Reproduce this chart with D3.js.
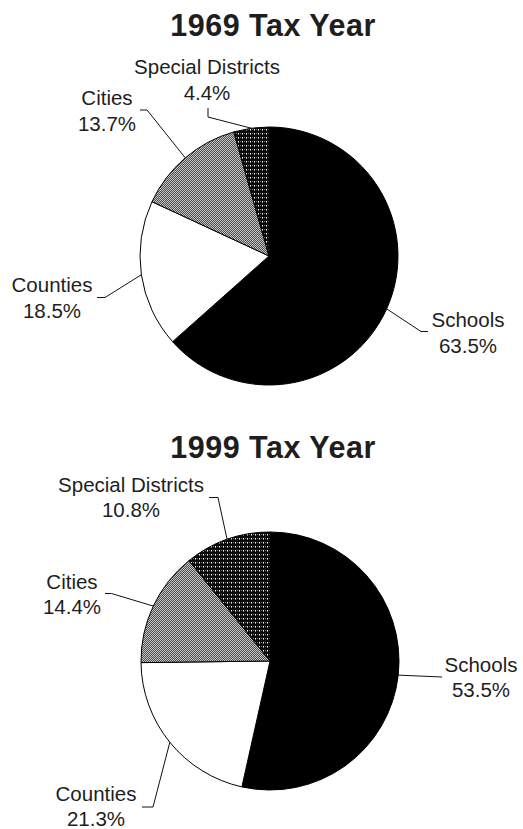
<!DOCTYPE html>
<html>
<head>
<meta charset="utf-8">
<script src="https://cdn.jsdelivr.net/npm/d3@7"></script>
<style>
  html, body { margin: 0; padding: 0; background: #fff; }
  svg { display: block; }
  text { font-family: "Liberation Sans", Arial, sans-serif; fill: #1e1e1e; }
</style>
</head>
<body>
<svg id="chart" width="523" height="829"></svg>
<script>
// Property tax levy shares by type of taxing district
const sectors = ["Schools", "Counties", "Cities", "Special Districts"];
const share1969 = [63.5, 18.5, 13.7, 4.4];
const share1999 = [53.5, 21.3, 14.4, 10.8];
const titles = ["1969 Tax Year", "1999 Tax Year"];

// Layout for each pie: centre, radius, title baseline, and label/leader placement per sector
const panels = [
  {
    values: share1969, title: titles[0], cx: 269, cy: 256, r: 129, titleY: 36,
    labels: [
      { x: 468, y: 327, elbow: [421, 331.5], end: [428, 331.5] },
      { x: 52,  y: 292, elbow: [105, 297.5], end: [97, 297.5] },
      { x: 107, y: 105, elbow: [147, 110],   end: [140, 110] },
      { x: 207, y: 74,  elbow: [208, 117],   end: [208, 108] }
    ]
  },
  {
    values: share1999, title: titles[1], cx: 270, cy: 661, r: 129, titleY: 458,
    labels: [
      { x: 481, y: 672, elbow: [442, 677],   end: [442, 677] },
      { x: 96,  y: 801, elbow: [153, 807],   end: [142, 807] },
      { x: 72,  y: 589, elbow: [111.5, 593.5], end: [105, 593.5] },
      { x: 131, y: 492, elbow: [218, 497.5], end: [209, 497.5] }
    ],
    lineGap: 24.5
  }
];

const svg = d3.select("#chart");
const defs = svg.append("defs");

// Fine dot screen for Cities
const pCities = defs.append("pattern").attr("id", "pat-cities")
  .attr("patternUnits", "userSpaceOnUse").attr("width", 2).attr("height", 2);
pCities.append("rect").attr("width", 2).attr("height", 2).attr("fill", "#c4c4c4");
pCities.append("rect").attr("x", 0).attr("y", 0).attr("width", 1).attr("height", 1).attr("fill", "#4e4e4e");
pCities.append("rect").attr("x", 1).attr("y", 1).attr("width", 1).attr("height", 1).attr("fill", "#4e4e4e");

// Dark grid screen for Special Districts
const pSpecial = defs.append("pattern").attr("id", "pat-special")
  .attr("patternUnits", "userSpaceOnUse").attr("width", 4).attr("height", 4);
pSpecial.append("rect").attr("width", 4).attr("height", 4).attr("fill", "#0a0a0a");
pSpecial.append("rect").attr("x", 1).attr("y", 1).attr("width", 1).attr("height", 1).attr("fill", "#fff");
pSpecial.append("rect").attr("x", 1).attr("y", 2).attr("width", 1).attr("height", 1).attr("fill", "#888");
pSpecial.append("rect").attr("x", 3).attr("y", 1).attr("width", 1).attr("height", 1).attr("fill", "#777");

const fills = d3.scaleOrdinal()
  .domain(sectors)
  .range(["#000", "#fff", "url(#pat-cities)", "url(#pat-special)"]);

const pie = d3.pie().sort(null).value(d => d);
const fmt = d => d.toFixed(1) + "%";

panels.forEach(panel => {
  const arcs = pie(panel.values);
  const arc = d3.arc().innerRadius(0).outerRadius(panel.r);
  const edge = d3.arc().innerRadius(panel.r).outerRadius(panel.r);
  const gap = panel.lineGap || 25.5;

  svg.append("text")
    .attr("x", 273).attr("y", panel.titleY)
    .attr("text-anchor", "middle")
    .attr("font-size", 30.5).attr("font-weight", "bold")
    .attr("letter-spacing", 0.5)
    .text(panel.title);

  const g = svg.append("g").attr("transform", `translate(${panel.cx},${panel.cy})`);
  g.selectAll("path.slice").data(arcs).join("path")
    .attr("class", "slice")
    .attr("d", arc)
    .attr("fill", (d, i) => fills(sectors[i]))
    .attr("stroke", "#000").attr("stroke-width", 1)
    .attr("stroke-linejoin", "round");

  // Leader lines from each slice's outer edge to its label
  const line = d3.line();
  arcs.forEach((d, i) => {
    const lab = panel.labels[i];
    const c = edge.centroid(d);
    const start = [panel.cx + c[0], panel.cy + c[1]];
    svg.append("path")
      .attr("d", line([start, lab.elbow, lab.end]))
      .attr("fill", "none").attr("stroke", "#111").attr("stroke-width", 1);

    const t = svg.append("text")
      .attr("text-anchor", "middle")
      .attr("font-size", 20.5);
    t.append("tspan").attr("x", lab.x).attr("y", lab.y).text(sectors[i]);
    t.append("tspan").attr("x", lab.x).attr("y", lab.y + gap).text(fmt(panel.values[i]));
  });
});
</script>
</body>
</html>
